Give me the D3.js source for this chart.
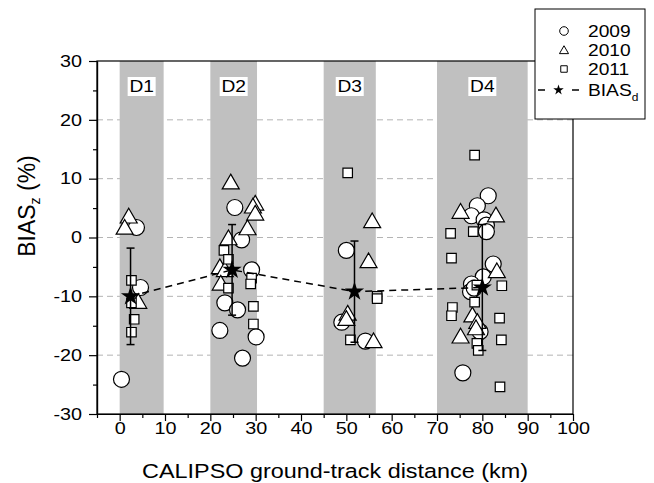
<!DOCTYPE html>
<html><head><meta charset="utf-8">
<script src="https://cdn.jsdelivr.net/npm/d3@7"></script>
<style>body{margin:0;background:#fff} svg text{font-family:"Liberation Sans",Arial,sans-serif;fill:#000}</style>
</head><body><svg id="c" width="654" height="483"></svg>
<script>
// ---- data ----
const x2009 = [0.4,3.7,4.6, 25.4,26.9,29.1,23.2,26.0,22.1,30.1,27.1, 50.0,49.0,54.2, 81.3,78.9,77.6,80.4,80.9,80.9,82.4,80.2,77.6,77.4,78.2,79.5,75.7];
const y2009 = [-24.1,1.7,-8.5, 5.1,-0.4,-5.5,-11.1,-12.3,-15.8,-16.9,-20.5, -2.2,-14.4,-17.6, 7.1,5.4,3.7,3.0,2.1,1.0,-4.5,-6.7,-7.9,-9.2,-8.6,-16.0,-23.0];
const x2010 = [2.0,1.1,4.1, 24.5,29.9,29.4,29.9,28.2,24.0,22.1,23.2,22.3, 55.7,54.9,50.3,50.0,56.0, 75.2,83.0,83.2,77.8,78.9,78.6,75.2];
const y2010 = [3.3,1.4,-11.2, 9.1,5.5,5.0,3.8,1.3,-0.4,-5.3,-5.8,-8.1, 2.5,-4.3,-13.2,-14.1,-17.9, 4.1,3.5,-6.0,-13.5,-14.6,-15.7,-17.1];
const x2011 = [2.6,2.6,3.2,2.6, 23.0,24.0,24.0,29.1,28.9,29.5,29.5, 50.3,56.8,56.8,50.9, 78.3,78.0,73.0,73.2,84.3,78.8,78.3,73.4,73.2,83.8,84.2,78.8,79.1,83.9];
const y2011 = [-7.3,-11.1,-13.9,-16.1, -2.2,-3.7,-8.6,-6.9,-7.9,-11.7,-14.7, 11.0,-10.0,-10.4,-17.4, 14.0,1.0,0.7,-3.5,-8.2,-8.1,-11.0,-11.9,-13.3,-13.7,-17.4,-18.0,-19.2,-25.4];
const biasX = [2.4, 24.8, 51.8, 80.0];
const biasY = [-10.0, -5.5, -9.2, -8.5];
const biasErr = [8.2, 7.7, 8.6, 10.7];
const bandStart = [0, 20, 45, 70];
const bandEnd = [9.7, 30.3, 56.5, 90];
const bandLabels = ["D1","D2","D3","D4"];
const xTicks = [0,10,20,30,40,50,60,70,80,90,100];
const xMinor = [-5,5,15,25,35,45,55,65,75,85,95];
const yTicks = [-30,-20,-10,0,10,20,30];
const yMinor = [-25,-15,-5,5,15,25];
const gridVals = [-20,-10,0,10,20];
const legendLabels = ["2009","2010","2011"];

// ---- chart ----
const svg = d3.select('#c');
const L=97, R=573, T=61, B=414, SX=1.2;
const x = d3.scaleLinear().domain([-5,100]).range([L,R]);
const y = d3.scaleLinear().domain([-30,30]).range([B,T]);

// grid
svg.append('g').selectAll('line').data(gridVals).join('line')
  .attr('x1',L).attr('x2',R).attr('y1',d=>y(d)).attr('y2',d=>y(d))
  .attr('stroke','#b4b4b4').attr('stroke-width',1).attr('stroke-dasharray','6,4');

// bands
svg.append('g').selectAll('rect').data(bandStart).join('rect')
  .attr('x',(d)=>x(d)).attr('width',(d,i)=>x(bandEnd[i])-x(d))
  .attr('y',T).attr('height',B-T).attr('fill','#c0c0c0');

// band labels
const lab = svg.append('g').selectAll('g').data(bandLabels).join('g')
  .attr('transform',(d,i)=>`translate(${x((bandStart[i]+bandEnd[i])/2)},92)`);
lab.append('rect').attr('x',-14).attr('y',-15).attr('width',28).attr('height',19).attr('fill','#fff');
lab.append('text').text(d=>d).attr('text-anchor','middle').attr('font-size',16)
  .attr('transform',`scale(${SX},1)`);

// frame
svg.append('rect').attr('x',L).attr('y',T).attr('width',R-L).attr('height',B-T)
  .attr('fill','none').attr('stroke','#000').attr('stroke-width',1.2);

// axes
const fmt = d=>String(d);
const xa = svg.append('g').attr('transform',`translate(0,${B})`)
  .call(d3.axisBottom(x).tickValues(xTicks).tickSize(7).tickPadding(1).tickSizeOuter(0).tickFormat(fmt));
const xm = svg.append('g').attr('transform',`translate(0,${B})`)
  .call(d3.axisBottom(x).tickValues(xMinor).tickSize(4).tickSizeOuter(0).tickFormat(''));
const ya = svg.append('g').attr('transform',`translate(${L},0)`)
  .call(d3.axisLeft(y).tickValues(yTicks).tickSize(8).tickPadding(4.5).tickSizeOuter(0).tickFormat(fmt));
const ym = svg.append('g').attr('transform',`translate(${L},0)`)
  .call(d3.axisLeft(y).tickValues(yMinor).tickSize(4).tickSizeOuter(0).tickFormat(''));
[xa,xm,ya,ym].forEach(g=>{
  g.attr('font-family',null).attr('font-size',null);
  g.selectAll('line,path').attr('stroke','#000').attr('stroke-width',1.2);
  g.selectAll('text').attr('font-size',16.5).attr('fill','#000').attr('transform',`scale(${SX},1)`);
});
ya.selectAll('text').attr('x',-12.5);

// axis titles
svg.append('text').attr('transform',`translate(335,478) scale(${SX},1)`)
  .attr('text-anchor','middle').attr('font-size',19.5).text('CALIPSO ground-track distance (km)');
const yt = svg.append('text').attr('transform','translate(35,206) rotate(-90)')
  .attr('text-anchor','middle').attr('font-size',23);
yt.append('tspan').text('BIAS');
yt.append('tspan').text('z').attr('font-size',14).attr('dy',5);
yt.append('tspan').text(' (%)').attr('dy',-5);

// markers
const mk = (type,size)=>d3.symbol().type(type).size(size)();
const g = svg.append('g').attr('fill','#fff').attr('stroke','#000').attr('stroke-width',1.2);
g.selectAll('.c09').data(x2009).join('circle').attr('class','c09')
  .attr('cx',d=>x(d)).attr('cy',(d,i)=>y(y2009[i])).attr('r',8);
g.selectAll('.t10').data(x2010).join('path').attr('class','t10')
  .attr('d',mk(d3.symbolTriangle,125))
  .attr('transform',(d,i)=>`translate(${x(d)},${y(y2010[i])})`);
g.selectAll('.s11').data(x2011).join('path').attr('class','s11')
  .attr('d',mk(d3.symbolSquare,90))
  .attr('transform',(d,i)=>`translate(${x(d)},${y(y2011[i])})`);

// BIAS_d line, error bars, stars
svg.append('path').datum(biasX)
  .attr('d',d3.line().x(d=>x(d)).y((d,i)=>y(biasY[i])))
  .attr('fill','none').attr('stroke','#000').attr('stroke-width',1.5).attr('stroke-dasharray','7,5');
const eb = svg.append('g').attr('stroke','#000').attr('stroke-width',1.5);
biasX.forEach((bx,i)=>{
  const cx=x(bx), t=y(biasY[i]+biasErr[i]), b=y(biasY[i]-biasErr[i]);
  eb.append('line').attr('x1',cx).attr('x2',cx).attr('y1',t).attr('y2',b);
  eb.append('line').attr('x1',cx-4).attr('x2',cx+4).attr('y1',t).attr('y2',t);
  eb.append('line').attr('x1',cx-4).attr('x2',cx+4).attr('y1',b).attr('y2',b);
});
svg.append('g').selectAll('path').data(biasX).join('path')
  .attr('d',mk(d3.symbolStar,115)).attr('fill','#000')
  .attr('transform',(d,i)=>`translate(${x(d)},${y(biasY[i])})`);

// legend
const lg = svg.append('g');
lg.append('rect').attr('x',535).attr('y',9).attr('width',110).attr('height',110)
  .attr('fill','#fff').attr('stroke','#000').attr('stroke-width',1);
const rows=[31,50,69,90];
const ls = lg.append('g').attr('fill','#fff').attr('stroke','#000').attr('stroke-width',1);
ls.append('circle').attr('cx',564).attr('cy',rows[0]).attr('r',4.3);
ls.append('path').attr('d',mk(d3.symbolTriangle,36)).attr('transform',`translate(564,${rows[1]+1})`);
ls.append('path').attr('d',mk(d3.symbolSquare,42)).attr('transform',`translate(564,${rows[2]})`);
lg.append('line').attr('x1',538).attr('x2',545).attr('y1',rows[3]).attr('y2',rows[3]).attr('stroke','#000').attr('stroke-width',1.5);
lg.append('line').attr('x1',572).attr('x2',579).attr('y1',rows[3]).attr('y2',rows[3]).attr('stroke','#000').attr('stroke-width',1.5);
lg.append('path').attr('d',mk(d3.symbolStar,34)).attr('fill','#000').attr('transform',`translate(558.5,${rows[3]})`);
legendLabels.forEach((t,i)=>{
  lg.append('text').attr('transform',`translate(588,${rows[i]+6}) scale(${SX},1)`).attr('font-size',16).text(t);
});
const bt = lg.append('text').attr('transform',`translate(588,${rows[3]+6}) scale(${SX},1)`).attr('font-size',16);
bt.append('tspan').text('BIAS');
bt.append('tspan').text('d').attr('font-size',10).attr('dy',5);
</script></body></html>
